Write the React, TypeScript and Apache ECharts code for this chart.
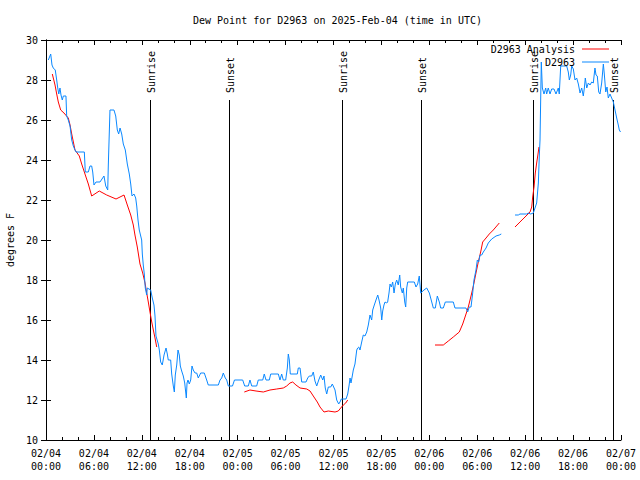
import React, { useEffect, useRef } from "react";
import * as echarts from "echarts";

// Hours since 2025-02-04 00:00 UTC
const obsHours = [
  0.29, 0.59, 0.75, 0.91, 1.16, 1.34, 1.47, 1.6, 1.75, 1.88, 2.04, 2.17, 2.5, 2.59, 2.79, 3.01, 3.22, 3.42, 3.63, 3.76,
  4.8, 4.92, 5.3, 5.51, 5.72, 5.85, 6.01, 6.26, 6.76, 7.26, 7.48, 7.73, 7.8, 8.01, 8.51, 8.73, 8.93, 9.1, 9.27, 9.48,
  9.68, 9.93, 10.18, 10.43, 10.61, 10.77, 11.02, 11.23, 11.36, 11.52, 11.68, 11.86, 11.98, 12.06, 12.18, 12.31, 12.43,
  12.61, 12.68, 13.11, 13.31, 13.52, 13.65, 13.77, 14.06, 14.19, 14.36, 14.56, 14.78, 15.03, 15.19, 15.31, 15.61,
  15.74, 15.94, 16.07, 16.19, 16.37, 16.53, 16.69, 16.82, 16.99, 17.19, 17.37, 17.49, 17.57, 17.66, 17.78, 17.94,
  18.12, 18.28, 18.44, 18.66, 18.87, 19.07, 19.37, 19.82, 20.12, 20.32, 21.58, 21.79, 22.0, 22.2, 22.45, 22.63, 22.83,
  23.35, 23.6, 24.63, 24.88, 25.33, 25.54, 25.76, 26.38, 26.58, 27.14, 27.33, 27.55, 27.96, 28.14, 29.09, 29.3, 29.51,
  29.71, 30.01, 30.22, 30.34, 30.47, 30.59, 31.47, 31.59, 31.81, 32.02, 32.56, 32.77, 32.97, 33.27, 33.47, 33.68,
  33.9, 34.15, 34.4, 34.65, 34.81, 34.97, 35.15, 35.35, 35.65, 35.85, 36.19, 36.4, 36.65, 36.81, 36.98, 37.57, 37.78,
  37.94, 38.07, 38.19, 38.35, 38.48, 38.69, 38.91, 39.03, 39.16, 39.32, 39.53, 39.73, 39.94, 40.16, 40.36, 40.57,
  40.78, 40.91, 41.11, 41.32, 41.54, 41.7, 41.91, 42.04, 42.16, 42.32, 42.45, 42.66, 42.78, 42.95, 43.08, 43.24,
  43.41, 43.58, 43.74, 43.91, 44.11, 44.29, 44.41, 44.62, 44.74, 44.92, 45.04, 45.17, 45.29, 46.12, 46.33, 46.54,
  46.74, 46.92, 47.33, 47.67, 48.0, 48.3, 48.5, 48.75, 49.0, 49.25, 49.42, 49.75, 50.0, 51.0, 51.21, 52.59, 52.8, 53.0,
  53.22, 53.43, 53.59, 53.84, 54.01, 54.18, 54.35, 54.56, 54.76, 55.1, 55.38, 55.81, 56.35, 56.76, 57.01, 57.8,
  58.73, 59.14, 59.35, 60.19, 60.39, 60.69, 61.02, 61.23, 61.44, 61.65, 61.77, 61.86, 61.95, 62.02, 62.15, 62.36,
  62.57, 62.69, 62.89, 63.11, 63.32, 63.61, 63.86, 64.15, 64.27, 64.45, 65.2, 65.4, 65.53, 65.7, 65.83, 66.03, 66.24,
  66.45, 66.66, 66.87, 67.08, 67.28, 67.41, 67.53, 67.71, 67.91, 68.12, 68.33, 68.53, 68.74, 68.87, 69.03, 69.21,
  69.37, 69.58, 69.79, 69.91, 70.09, 70.25, 70.41, 70.62, 70.83, 71.04, 71.25, 71.46, 71.66, 71.79, 71.94,
];
const obsValues: (number | null)[] = [
  29.0, 29.3, 28.75, 28.6, 28.5, 28.0, 27.6, 27.3, 27.6, 27.25, 27.0, 27.2, 27.2, 26.2, 26.0, 25.7, 25.0, 24.7, 24.5, 24.4,
  24.4, 23.4, 23.4, 23.7, 23.7, 23.4, 22.75, 22.9, 22.9, 23.2, 22.7, 22.5, 23.7, 26.5, 26.5, 26.2, 25.5, 25.3, 25.6, 25.3,
  24.8, 24.5, 23.8, 23.3, 22.8, 22.2, 22.3, 22.1, 21.7, 21.0, 20.5, 20.2, 20.0, 19.3, 18.75, 18.3, 17.6,
  17.25, 17.6, 17.5, 17.1, 16.75, 16.2, 15.2, 14.8, 14.5, 13.9, 13.75, 14.25, 14.6, 14.3, 14.0, 14.0,
  13.3, 12.7, 12.4, 13.25, 13.75, 14.5, 14.25, 13.7, 13.45, 13.2, 12.85, 12.4, 12.1, 12.85, 13.0, 12.8,
  13.0, 13.7, 13.5, 13.35, 13.35, 13.1, 13.35, 13.35, 13.0, 12.75, 12.75, 13.0, 13.1, 13.35, 13.1, 13.0, 12.7,
  12.7, 13.0, 13.0, 12.7, 12.7, 13.0, 12.7, 12.7, 13.0, 13.0, 13.3, 13.0, 13.0, 13.3, 13.3, 13.0, 13.3,
  13.0, 13.0, 13.6, 14.3, 14.0, 13.3, 13.3, 13.6, 13.6, 12.9, 12.9, 13.1, 13.2, 13.2, 13.4, 12.95,
  12.7, 13.0, 13.25, 13.0, 13.2, 12.6, 12.3, 12.65, 12.65, 12.8, 12.5, 12.0, 11.8, 11.9, 12.05, 12.05, 12.3,
  12.7, 13.1, 12.85, 13.2, 13.5, 13.8, 14.5, 14.6, 14.65, 14.5, 14.9, 15.25, 15.2, 15.4, 15.75, 16.25,
  16.0, 16.5, 16.75, 17.0, 17.25, 17.0, 16.6, 16.0, 16.45, 16.75, 16.9, 16.85, 16.9, 17.35, 17.8, 17.65,
  17.9, 17.35, 17.8, 18.0, 17.75, 18.25, 17.65, 17.35, 17.6, 16.9, 16.65, 17.6, 17.9, 17.9, 17.65, 17.8,
  18.2, 17.35, 17.5, 17.6, 17.35, 16.9, 16.6, 16.6, 17.2, 16.9, 16.6, 16.6, 16.9, 16.9, 16.6, 16.6, 16.4, 16.65,
  16.65, 17.35, 18.0, 18.5, 19.0, 18.9, 19.25, 19.25, 19.4, 19.6, 19.85, 20.05, 20.2, 20.25, 20.3, null,
  21.25, 21.25, 21.3, 21.3, 21.35, 21.3, 21.35, 21.6, 21.85, 22.85, 24.2, 25.0, 27.2, 28.9, 27.6, 27.3,
  27.6, 27.3, 27.6, 27.3, 27.55, 27.55, 27.3, 27.6, 27.3, 28.7, 28.7, 28.4, 28.0, 28.25, 28.7, 28.55, 28.0,
  28.1, 27.8, 27.35, 27.6, 27.2, 27.6, 28.1, 27.6, 27.85, 27.75, 27.9, 27.85, 28.6, 28.25, 28.2, 27.4,
  27.3, 27.85, 28.8, 28.3, 27.4, 27.65, 27.1, 27.3, 27.1, 26.9, 26.5, 26.1, 25.75, 25.5, 25.4,
];

const anaHours = [
  0.79, 1.13, 1.34, 1.54, 1.84, 2.25, 2.79, 3.01, 3.22, 3.63, 4.17, 4.47, 4.88, 5.3, 5.72, 6.67, 7.6, 8.77, 9.77,
  10.18, 10.61, 10.93, 11.14, 11.43, 11.77, 12.11, 12.4, 12.61, 12.81, 13.02, 13.24, 13.44, 13.65, 13.86, 19.0,
  24.83, 25.54, 26.3, 27.21, 28.05, 28.89, 29.71, 30.14, 30.55, 30.89, 31.3, 31.81, 32.65, 33.06, 33.47, 33.97,
  34.31, 34.81, 35.35, 36.19, 36.6, 36.9, 37.23, 37.53, 37.78, 43.0,
  48.71, 49.75, 50.38, 51.0, 51.75, 52.18, 52.47, 52.88, 53.31, 53.59, 53.84, 54.13, 54.43, 54.68, 55.1, 55.51,
  56.01, 56.76, 57.8,
  58.73, 59.35, 59.98, 60.61, 60.82, 60.94, 61.11, 61.27, 61.44, 61.61, 61.73,
];
const anaValues: (number | null)[] = [
  28.3, 27.75, 27.3, 26.9, 26.5, 26.35, 26.1, 25.75, 25.3, 24.5, 24.2, 23.8, 23.3, 22.8, 22.2, 22.45, 22.25, 22.05, 22.25,
  21.75, 21.25, 20.75, 20.25, 19.65, 18.8, 18.35, 17.85, 17.35, 16.9, 16.4, 15.9, 15.5, 15.1, 14.65, null,
  12.4, 12.5, 12.45, 12.4, 12.5, 12.55, 12.6, 12.7, 12.85, 12.9, 12.75, 12.6, 12.55, 12.45, 12.2, 11.9,
  11.65, 11.4, 11.45, 11.4, 11.45, 11.6, 11.75, 11.85, 12.0, null,
  14.75, 14.75, 14.95, 15.15, 15.4, 15.8, 16.15, 16.65, 17.35, 17.85, 18.35, 18.9, 19.4, 19.9, 20.1, 20.3,
  20.5, 20.85, null,
  20.65, 20.9, 21.15, 21.4, 21.65, 22.15, 22.65, 23.35, 23.85, 24.3, 24.65,
];

const sunHours = [13.0, 22.95, 37.1, 47.0, 61.0, 71.05];
const sunLabels = ["Sunrise", "Sunset", "Sunrise", "Sunset", "Sunrise", "Sunset"];

const FONT = "DejaVu Sans Mono";

function fmtX(v: number) {
  const day = 4 + Math.floor(v / 24);
  const hh = Math.round(v % 24);
  return `02/0${day}\n${String(hh).padStart(2, "0")}:00`;
}

export default function App() {
  const ref = useRef<HTMLDivElement>(null);
  useEffect(() => {
    if (!ref.current) return;
    const chart = echarts.init(ref.current, undefined, { renderer: "svg" });
    const obs = obsHours.map((h, i) => [h, obsValues[i] === null ? "-" : obsValues[i]]);
    const ana = anaHours.map((h, i) => [h, anaValues[i] === null ? "-" : anaValues[i]]);
    const sun = sunHours.map((h) => [h, 27]);
    const axisLine = { show: true, lineStyle: { color: "#000", width: 1 } };
    chart.setOption({
      animation: false,
      backgroundColor: "#fff",
      textStyle: { fontFamily: FONT },
      title: {
        text: "Dew Point for D2963 on 2025-Feb-04 (time in UTC)",
        left: 188,
        top: 10,
        textStyle: { fontFamily: FONT, fontSize: 10, fontWeight: "normal", color: "#000" },
      },
      legend: [
        {
          data: ["D2963 Analysis"],
          right: 31,
          top: 44,
          padding: 0,
          align: "right",
          icon: "rect",
          itemWidth: 27,
          itemHeight: 1,
          textStyle: { fontFamily: FONT, fontSize: 10, color: "#000", padding: [0, 2, 0, 0] },
        },
        {
          data: ["D2963"],
          right: 31,
          top: 57,
          padding: 0,
          align: "right",
          icon: "rect",
          itemWidth: 27,
          itemHeight: 1,
          textStyle: { fontFamily: FONT, fontSize: 10, color: "#000", padding: [0, 2, 0, 0] },
        },
      ],
      grid: { left: 46, right: 19, top: 40, bottom: 40, containLabel: false, outerBoundsMode: "none" },
      xAxis: [
        {
          type: "value",
          min: 0,
          max: 72,
          interval: 6,
          axisLine,
          axisTick: { show: true, inside: true, length: 5, lineStyle: { color: "#000" } },
          minorTick: { show: true, splitNumber: 3, length: 3, lineStyle: { color: "#000" } },
          splitLine: { show: false },
          axisLabel: {
            formatter: fmtX,
            fontFamily: FONT,
            fontSize: 10,
            color: "#000",
            lineHeight: 13,
            margin: 7,
            showMinLabel: true,
            showMaxLabel: true,
          },
        },
        {
          type: "value",
          position: "top",
          min: 0,
          max: 72,
          interval: 6,
          axisLine,
          axisTick: { show: true, inside: true, length: 5, lineStyle: { color: "#000" } },
          minorTick: { show: true, splitNumber: 3, length: 3, lineStyle: { color: "#000" } },
          splitLine: { show: false },
          axisLabel: { show: false },
        },
      ],
      yAxis: [
        {
          type: "value",
          min: 10,
          max: 30,
          interval: 2,
          name: "degrees F",
          nameLocation: "middle",
          nameGap: 31,
          nameTextStyle: { fontFamily: FONT, fontSize: 10, color: "#000" },
          axisLine,
          axisTick: { show: true, inside: true, length: 5, lineStyle: { color: "#000" } },
          splitLine: { show: false },
          axisLabel: { fontFamily: FONT, fontSize: 10, color: "#000", margin: 8 },
        },
        {
          type: "value",
          position: "right",
          min: 10,
          max: 30,
          interval: 2,
          axisLine,
          axisTick: { show: true, inside: true, length: 5, lineStyle: { color: "#000" } },
          splitLine: { show: false },
          axisLabel: { show: false },
        },
      ],
      series: [
        {
          type: "custom",
          name: "sun",
          xAxisIndex: 0,
          yAxisIndex: 0,
          data: sun,
          encode: { x: 0, y: 1 },
          silent: true,
          z: 1,
          renderItem: (params: any, api: any) => {
            const h = api.value(0);
            const top = api.coord([h, 27]);
            const bot = api.coord([h, 10]);
            return {
              type: "group",
              children: [
                {
                  type: "line",
                  shape: { x1: Math.round(bot[0]) + 0.5, y1: bot[1], x2: Math.round(top[0]) + 0.5, y2: top[1] },
                  style: { stroke: "#000", lineWidth: 1 },
                },
                {
                  type: "text",
                  x: Math.round(top[0]) + 1,
                  y: top[1] - 7,
                  rotation: Math.PI / 2,
                  style: {
                    text: sunLabels[params.dataIndex],
                    font: `10px "${FONT}"`,
                    fill: "#000",
                    align: "left",
                    verticalAlign: "middle",
                  },
                },
              ],
            };
          },
        },
        {
          type: "line",
          name: "D2963 Analysis",
          data: ana,
          showSymbol: false,
          symbol: "none",
          connectNulls: false,
          color: "#ff0000",
          lineStyle: { color: "#ff0000", width: 1 },
          z: 2,
        },
        {
          type: "line",
          name: "D2963",
          data: obs,
          showSymbol: false,
          symbol: "none",
          connectNulls: false,
          color: "#0a88ff",
          lineStyle: { color: "#0a88ff", width: 1 },
          z: 3,
        },
      ],
    });
    return () => chart.dispose();
  }, []);
  return <div ref={ref} style={{ width: 640, height: 480, position: "absolute", left: 0, top: 0 }} />;
}
